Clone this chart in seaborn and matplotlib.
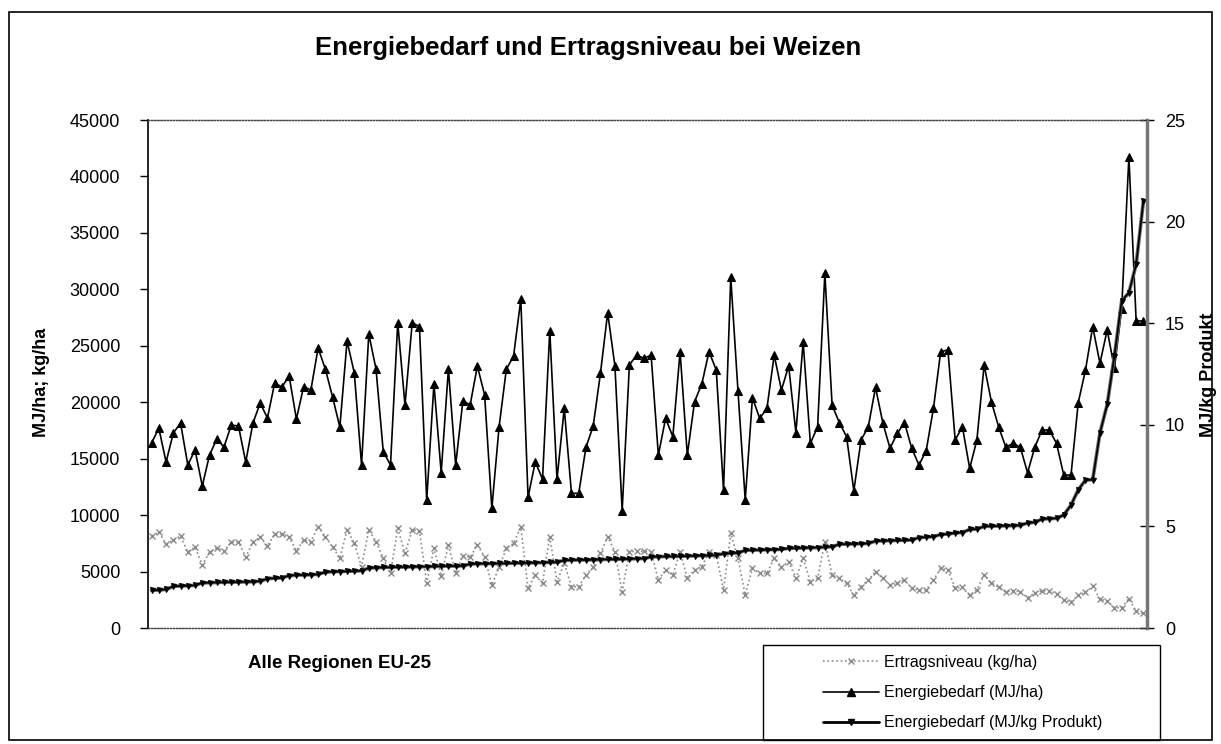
import numpy as np
import pandas as pd
import matplotlib
matplotlib.use("Agg")
import matplotlib.pyplot as plt
from matplotlib.patches import Rectangle
from matplotlib.lines import Line2D
import seaborn as sns

# ---- data ----
energie_ha = [16390, 17700, 14700, 17270, 18160, 14440, 15770, 12580, 15320, 16740,
              16030, 17980, 17890, 14700, 18160, 19930, 18600, 21700, 21350, 22320,
              18510, 21380, 21080, 24800, 22940, 20460, 17800, 25420, 22590, 14440,
              26040, 22940, 15620, 14440, 27050, 19750, 27050, 26690, 11340, 21610,
              13760, 22940, 14440, 20130, 19750, 23210, 20640, 10600, 17830, 22910,
              24090, 29110, 11580, 14730, 13170, 26340, 13170, 19460, 11930, 11930,
              16010, 17890, 22560, 27930, 23210, 10390, 23300, 24180, 23890, 24180,
              15320, 18570, 16950, 24480, 15320, 20050, 21610, 24480, 22850, 12220,
              31060, 20990, 11340, 20400, 18570, 19460, 24180, 21080, 23210, 17300,
              25360, 16360, 17830, 31420, 19750, 18190, 16950, 12160, 16650, 17830,
              21320, 18190, 15920, 17240, 18190, 15920, 14440, 15710, 19460, 24480,
              24630, 16650, 17830, 14150, 16650, 23300, 20050, 17830, 16010, 16360,
              16010, 13760, 16010, 17540, 17540, 16360, 13550, 13550, 19960, 22850,
              26690, 23450, 26400, 23000, 28300, 41750, 27200, 27200]

ertrag = [8150, 8500, 7440, 7800, 8150, 6730, 7170, 5580, 6730, 7090,
          6820, 7620, 7620, 6290, 7620, 8060, 7260, 8330, 8330, 8060,
          6850, 7800, 7650, 8970, 8090, 7200, 6170, 8680, 7500, 5430,
          8680, 7650, 6170, 4840, 8830, 6610, 8680, 8620, 3960, 7060,
          4600, 7350, 4840, 6420, 6260, 7350, 6320, 3810, 5370, 7060,
          7500, 8920, 3520, 4690, 3960, 8090, 4100, 5730, 3660, 3660,
          4690, 5370, 6610, 8090, 6760, 3220, 6760, 6800, 6780, 6760,
          4250, 5140, 4690, 6760, 4400, 5140, 5430, 6760, 6470, 3370,
          8390, 6170, 2920, 5290, 4840, 4840, 6170, 5400, 5870, 4400,
          6170, 4100, 4400, 7650, 4690, 4400, 3960, 2920, 3660, 4250,
          4990, 4400, 3810, 3960, 4250, 3520, 3370, 3370, 4250, 5290,
          5140, 3550, 3600, 2900, 3400, 4700, 4000, 3600, 3200, 3300,
          3200, 2700, 3100, 3300, 3300, 3050, 2450, 2300, 2900, 3150,
          3700, 2550, 2400, 1800, 1800, 2600, 1500, 1300]

energie_kg = [1.85, 1.87, 1.90, 2.05, 2.07, 2.08, 2.10, 2.22, 2.23, 2.24,
              2.25, 2.26, 2.26, 2.27, 2.28, 2.30, 2.43, 2.45, 2.47, 2.58,
              2.60, 2.61, 2.62, 2.64, 2.75, 2.77, 2.78, 2.79, 2.80, 2.82,
              2.95, 2.97, 2.98, 2.99, 3.00, 3.00, 3.01, 3.02, 3.02, 3.03,
              3.04, 3.05, 3.05, 3.06, 3.15, 3.16, 3.17, 3.17, 3.18, 3.18,
              3.19, 3.20, 3.20, 3.21, 3.22, 3.23, 3.24, 3.33, 3.34, 3.35,
              3.35, 3.36, 3.37, 3.38, 3.38, 3.39, 3.40, 3.41, 3.42, 3.50,
              3.51, 3.52, 3.52, 3.53, 3.54, 3.55, 3.56, 3.57, 3.58, 3.66,
              3.68, 3.70, 3.82, 3.83, 3.84, 3.85, 3.86, 3.87, 3.92, 3.93,
              3.94, 3.95, 3.96, 3.98, 4.00, 4.12, 4.13, 4.14, 4.15, 4.16,
              4.28, 4.29, 4.30, 4.31, 4.32, 4.33, 4.45, 4.47, 4.50, 4.60,
              4.62, 4.68, 4.70, 4.85, 4.87, 5.00, 5.01, 5.02, 5.03, 5.04,
              5.05, 5.17, 5.20, 5.36, 5.38, 5.40, 5.56, 6.05, 6.80, 7.28,
              7.30, 9.60, 11.00, 13.40, 16.10, 16.50, 17.90, 21.00]

left_ticks = [0, 5000, 10000, 15000, 20000, 25000, 30000, 35000, 40000, 45000]
right_ticks = [0, 5, 10, 15, 20, 25]

title = "Energiebedarf und Ertragsniveau bei Weizen"
xlabel = "Alle Regionen EU-25"
ylabel_left = "MJ/ha; kg/ha"
ylabel_right = "MJ/kg Produkt"
legend_labels = ["Ertragsniveau (kg/ha)", "Energiebedarf (MJ/ha)",
                 "Energiebedarf (MJ/kg Produkt)"]

n = len(energie_ha)
df = pd.DataFrame({"region": np.arange(n), "energie_ha": energie_ha,
                   "ertrag": ertrag, "energie_kg": energie_kg})

sns.set_theme(style="white")
plt.rcParams["font.family"] = ["Liberation Sans", "DejaVu Sans"]
plt.rcParams["text.color"] = "black"
plt.rcParams["axes.labelcolor"] = "black"
plt.rcParams["xtick.color"] = "black"
plt.rcParams["ytick.color"] = "black"

fig = plt.figure(figsize=(12.21, 7.44), dpi=100)
ax = fig.add_axes([0.1212, 0.1559, 0.8182, 0.6828])
ax2 = ax.twinx()

sns.lineplot(data=df, x="region", y="ertrag", ax=ax, color="#8a8a8a",
             linestyle=":", linewidth=1.2, marker="x", markersize=4,
             markeredgewidth=1.0, markeredgecolor="#8a8a8a")
sns.lineplot(data=df, x="region", y="energie_ha", ax=ax, color="black",
             linewidth=1.2, marker="^", markersize=6.2, markeredgecolor="black")
sns.lineplot(data=df, x="region", y="energie_kg", ax=ax2, color="#666666",
             linewidth=2.6)
sns.lineplot(data=df, x="region", y="energie_kg", ax=ax2, color="black",
             linewidth=1.2, marker="v", markersize=3.6, markeredgecolor="black")

ax.set_xlim(-0.5, n - 0.5)
ax.set_ylim(0, 45000)
ax2.set_ylim(0, 25)
ax.set_yticks(left_ticks)
ax.set_yticklabels([str(t) for t in left_ticks])
ax2.set_yticks(right_ticks)
ax2.set_yticklabels([str(t) for t in right_ticks])
ax.set_xticks([])
ax.set_xlabel("")
ax.set_ylabel("")
ax2.set_ylabel("")

ax.tick_params(axis="y", direction="out", length=6, width=1, pad=14,
               labelsize=13, colors="black", left=True)
ax2.tick_params(axis="y", direction="inout", length=10, width=1, pad=8,
                labelsize=13, colors="black", right=True)

for a in (ax, ax2):
    a.spines["top"].set_linestyle((0, (1, 1.5)))
    a.spines["top"].set_linewidth(0.9)
    a.spines["top"].set_color("#444444")
    a.spines["bottom"].set_linestyle((0, (1, 1.5)))
    a.spines["bottom"].set_linewidth(0.9)
    a.spines["bottom"].set_color("#444444")
ax.spines["left"].set_color("black")
ax.spines["left"].set_linewidth(1.2)
ax.spines["right"].set_visible(False)
ax2.spines["left"].set_visible(False)
ax2.spines["right"].set_color("#777777")
ax2.spines["right"].set_linewidth(2.5)
if ax.get_legend():
    ax.get_legend().remove()

# texts
fig.text(0.4816, 0.935, title, ha="center", va="center", fontsize=18.5,
         fontweight="bold")
fig.text(0.034, 0.486, ylabel_left, ha="center", va="center", rotation=90,
         fontsize=13, fontweight="bold")
fig.text(0.990, 0.496, ylabel_right, ha="center", va="center", rotation=90,
         fontsize=13, fontweight="bold")
fig.text(0.278, 0.108, xlabel, ha="center", va="center", fontsize=13.5,
         fontweight="bold")

# outer frame
fig.patches.append(Rectangle((0.007, 0.005), 0.986, 0.979, transform=fig.transFigure,
                             fill=False, edgecolor="black", linewidth=1.2))
# legend box
fig.patches.append(Rectangle((0.625, 0.006), 0.325, 0.127, transform=fig.transFigure,
                             fill=False, edgecolor="black", linewidth=1.0))
handles = [
    Line2D([], [], color="#8a8a8a", linestyle=":", linewidth=1.2, marker="x",
           markersize=4),
    Line2D([], [], color="black", linewidth=1.2, marker="^", markersize=6),
    Line2D([], [], color="black", linewidth=2.0, marker="v", markersize=4),
]
fig.legend(handles, legend_labels, loc="center left",
           bbox_to_anchor=(0.665, 0.069), frameon=False, fontsize=11.5,
           handlelength=3.5, handletextpad=0.3, labelspacing=0.95,
           borderpad=0.2)

fig.savefig("out.png", dpi=100)
